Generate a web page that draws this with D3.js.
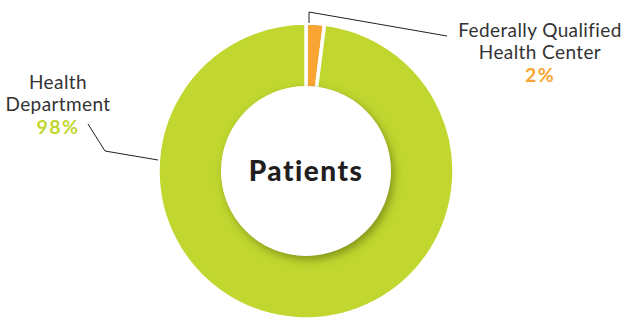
<!DOCTYPE html>
<html><head><meta charset="utf-8">
<script src="https://cdn.jsdelivr.net/npm/d3@7"></script>
<style>html,body{margin:0;padding:0;background:#fff;}svg{display:block;}</style>
</head><body>
<svg id="chart" width="623" height="318"></svg>
<script>
const categories = ["Federally Qualified Health Center", "Health Department"];
const values = [2, 98];
const labelLines = [["Federally Qualified", "Health Center"], ["Health", "Department"]];
const percentLabels = ["2%", "98%"];
const centerTitle = "Patients";

const colors = d3.scaleOrdinal().domain(categories).range(["#F9A533", "#C1D72F"]);
const W = 623, H = 318, cx = 306, cy = 171, outerR = 148, innerR = 85;
const svg = d3.select("#chart");
const defs = svg.append("defs");
const f = defs.append("filter").attr("id","sh").attr("x","-20%").attr("y","-20%").attr("width","140%").attr("height","140%");
f.append("feGaussianBlur").attr("stdDeviation", 4);

const g = svg.append("g").attr("transform", `translate(${cx},${cy})`);
const pie = d3.pie().sort(null).value(d => d.v);
const data = categories.map((c, i) => ({c, v: values[i], i}));
const arcs = pie(data);
const arc = d3.arc().innerRadius(innerR - 2).outerRadius(outerR);
g.selectAll("path.slice").data(arcs).join("path").attr("class","slice")
  .attr("d", arc).attr("fill", d => colors(d.data.c))
  .attr("stroke", "#fff").attr("stroke-width", 3.5).attr("stroke-linejoin","miter");

// inner shadow
g.append("circle").attr("cx", 3).attr("cy", 4).attr("r", innerR).attr("fill", "rgba(60,70,0,0.45)").attr("filter","url(#sh)");
g.append("circle").attr("r", innerR).attr("fill", "#fff");

g.append("text").text(centerTitle).attr("text-anchor","middle").attr("y", 9.5)
  .attr("font-family","Lato, sans-serif").attr("font-weight", 900).attr("font-size", 28)
  .attr("letter-spacing", 1.5).attr("fill", "#231f20");

// labels
const labelCfg = [
  {x: 540, y: 37, line: [[3, -148], [3, -159], [141, -135]]},
  {x: 58, y: 89, line: [[-148, -11], [-201, -20], [-218, -47]]}
];
arcs.forEach((a, i) => {
  const cfg = labelCfg[i];
  g.append("path").attr("d", d3.line()(cfg.line)).attr("fill","none").attr("stroke","#231f20").attr("stroke-width",1);
  const t = svg.append("text").attr("text-anchor","middle").attr("font-family","Lato, sans-serif");
  labelLines[i].forEach((ln, k) => {
    t.append("tspan").attr("x", cfg.x).attr("y", cfg.y + k * 21.5).text(ln)
      .attr("font-size", 19).attr("letter-spacing", 0.4).attr("fill", "#333");
  });
  t.append("tspan").attr("x", cfg.x).attr("y", cfg.y + 44.5).text(percentLabels[i])
    .attr("font-size", 19.5).attr("font-weight", 700).attr("letter-spacing", 1.4).attr("fill", colors(a.data.c));
});
</script>
</body></html>
